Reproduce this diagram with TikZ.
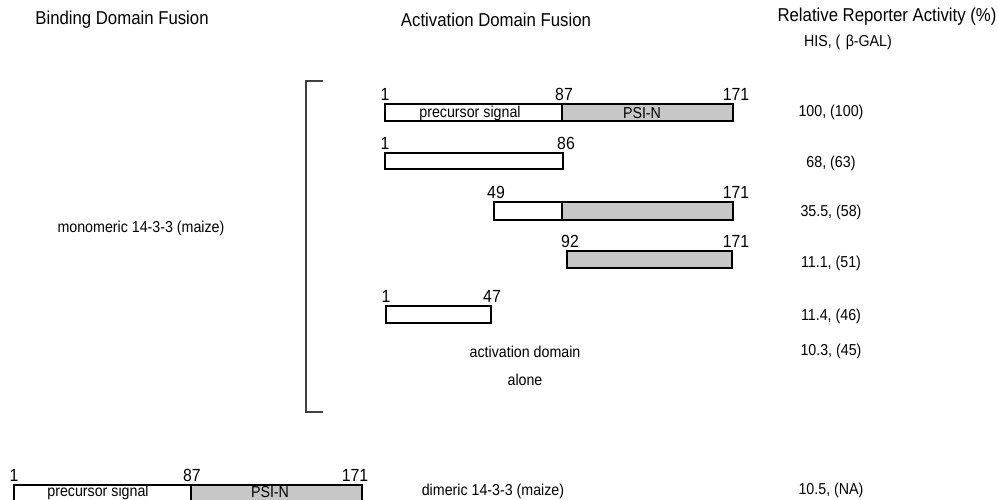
\documentclass[tikz,border=0pt]{standalone}
\usepackage{fontspec}
\setmainfont{Liberation Sans}[FakeStretch=0.9]

\begin{document}
\begin{tikzpicture}[
  x=0.02cm, y=-0.02cm,
  title/.style={font=\fontsize{10.6}{12}\selectfont, inner sep=0pt},
  lbl/.style={font=\fontsize{9}{10.5}\selectfont, inner sep=0pt},
  resnum/.style={lbl, font=\fontsize{10}{11}\selectfont, anchor=south},
  seg/.style={draw, line width=0.7pt, fill=white},
  psi/.style={seg, fill=black!22},
  brace/.style={draw=black!75, line width=0.6pt},
]
\useasboundingbox (0,0) rectangle (998,500);

% column heads
\node[title] (bdf) at (122,20) {Binding Domain Fusion};
\node[title] (adf) at (496,20) {Activation Domain Fusion};
\node[title] (rra) at (887,17) {Relative Reporter Activity (\%)};
\node[lbl] (his) at (848,42) {HIS, (\,\,β-GAL)};

% full length
\draw[seg] (385,104) rectangle (562,121);
\draw[psi] (562,104) rectangle (733,121);
\node[lbl] (sig1) at (470,113) {precursor signal};
\node[lbl] (psi1) at (642,113) {PSI-N};
\node[resnum] (a1) at (385,101) {1};
\node[resnum] (b1) at (564,101) {87};
\node[resnum] (c1) at (736,101) {171};

% 1-86
\draw[seg] (385,153) rectangle (563,169);
\node[resnum] (a2) at (385,150) {1};
\node[resnum] (b2) at (566,150) {86};

% 49-171
\draw[seg] (494,202) rectangle (562,220);
\draw[psi] (562,202) rectangle (733,220);
\node[resnum] (a3) at (496,199) {49};
\node[resnum] (c3) at (736,199) {171};

% 92-171
\draw[psi] (567,251) rectangle (732,268);
\node[resnum] (a4) at (570,248) {92};
\node[resnum] (c4) at (736,248) {171};

% 1-47
\draw[seg] (386,306) rectangle (491,323);
\node[resnum] (a5) at (386,303) {1};
\node[resnum] (b5) at (492,303) {47};

\node[lbl] (ad) at (525,352) {activation domain};
\node[lbl] (adb) at (525,380) {alone};

% bracket
\coordinate (brt) at (323,81);
\coordinate (brb) at (323,412);
\draw[brace] (brt) -- (306,81) -- (306,412) -- (brb);
\node[lbl] (mono) at (141,228) {monomeric 14-3-3 (maize)};

% dimeric row
\draw[seg] (14,485) rectangle (191,501);
\draw[psi] (191,485) rectangle (362,501);
\node[lbl] (sig2) at (98,492) {precursor signal};
\node[lbl] (psi2) at (270,492) {PSI-N};
\node[resnum] (a6) at (14,482) {1};
\node[resnum] (b6) at (192,482) {87};
\node[resnum] (c6) at (355,482) {171};
\node[lbl] (di) at (493,491) {dimeric 14-3-3 (maize)};

% activities
\node[lbl] (v1) at (831,112) {100, (100)};
\node[lbl] (v2) at (831,163) {68, (63)};
\node[lbl] (v3) at (831,212) {35.5, (58)};
\node[lbl] (v4) at (831,263) {11.1, (51)};
\node[lbl] (v5) at (831,316) {11.4, (46)};
\node[lbl] (v6) at (831,351) {10.3, (45)};
\node[lbl] (v7) at (831,490) {10.5, (NA)};
\end{tikzpicture}
\end{document}
